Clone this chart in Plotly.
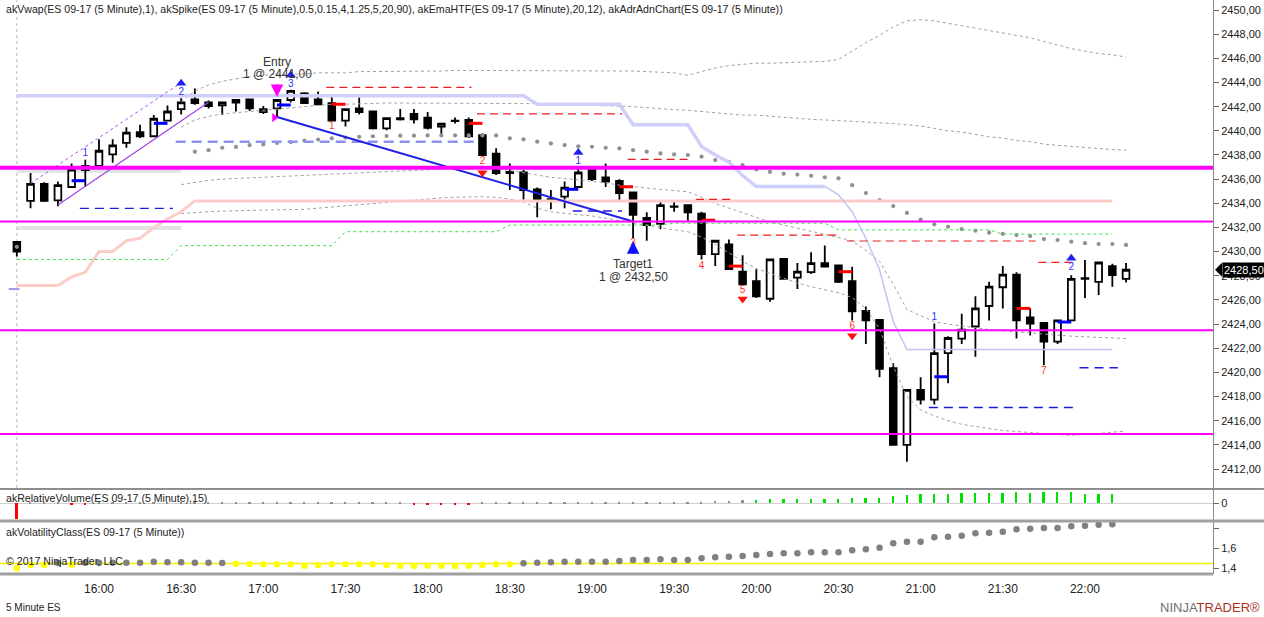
import plotly.graph_objects as go
from plotly.subplots import make_subplots

DAY = "2017-08-21 "

### 5 minute bars, 15:30 - 22:15 ###
times = ["15:30", "15:35", "15:40", "15:45", "15:50", "15:55", "16:00", "16:05", "16:10", "16:15", "16:20", "16:25",
         "16:30", "16:35", "16:40", "16:45", "16:50", "16:55", "17:00", "17:05", "17:10", "17:15", "17:20", "17:25",
         "17:30", "17:35", "17:40", "17:45", "17:50", "17:55", "18:00", "18:05", "18:10", "18:15", "18:20", "18:25",
         "18:30", "18:35", "18:40", "18:45", "18:50", "18:55", "19:00", "19:05", "19:10", "19:15", "19:20", "19:25",
         "19:30", "19:35", "19:40", "19:45", "19:50", "19:55", "20:00", "20:05", "20:10", "20:15", "20:20", "20:25",
         "20:30", "20:35", "20:40", "20:45", "20:50", "20:55", "21:00", "21:05", "21:10", "21:15", "21:20", "21:25",
         "21:30", "21:35", "21:40", "21:45", "21:50", "21:55", "22:00", "22:05", "22:10", "22:15"]

opens = [2430.8, 2434.2, 2435.6, 2434.25, 2435.35, 2436.75, 2437.1, 2438.05, 2439.0, 2439.9, 2439.55, 2440.85,
         2441.8, 2442.6, 2442.35, 2442.1, 2442.33, 2442.6, 2441.55, 2441.85, 2442.55, 2443.1, 2442.6, 2442.3,
         2440.85, 2441.85, 2441.6, 2440.2, 2441.05, 2441.4, 2441.1, 2440.35, 2440.8, 2440.9, 2439.65, 2438.1,
         2436.6, 2436.55, 2435.15, 2434.35, 2434.55, 2435.35, 2436.8, 2436.15, 2435.85, 2434.9, 2432.8, 2432.3,
         2433.75, 2433.85, 2433.15, 2429.8, 2430.6, 2428.35, 2427.55, 2426.1, 2429.4, 2427.85, 2428.3, 2429.05,
         2428.85, 2427.55, 2425.1, 2424.35, 2420.35, 2414.0, 2418.55, 2417.75, 2421.6, 2422.8, 2423.8, 2425.5,
         2427.05, 2428.1, 2424.55, 2424.1, 2422.55, 2424.3, 2427.75, 2427.5, 2428.8, 2427.75]
highs = [2430.8, 2436.5, 2435.75, 2435.8, 2437.3, 2437.6, 2439.3, 2439.3, 2440.3, 2440.5, 2441.3, 2442.1,
         2442.7, 2443.5, 2442.5, 2442.35, 2442.55, 2442.6, 2442.05, 2442.55, 2443.4, 2443.2, 2443.25, 2442.85,
         2441.8, 2442.75, 2441.6, 2441.05, 2441.8, 2441.8, 2441.55, 2440.65, 2441.1, 2441.1, 2439.8, 2438.55,
         2437.3, 2436.8, 2435.3, 2435.1, 2435.8, 2436.9, 2436.8, 2437.3, 2436.0, 2434.9, 2433.25, 2434.1,
         2434.15, 2433.85, 2433.3, 2430.9, 2431.0, 2429.7, 2428.55, 2429.35, 2429.4, 2429.05, 2429.95, 2430.5,
         2428.9, 2428.75, 2425.45, 2424.35, 2420.75, 2418.55, 2419.6, 2424.05, 2423.0, 2424.85, 2426.3, 2427.5,
         2428.8, 2428.3, 2425.3, 2424.1, 2424.3, 2428.05, 2429.3, 2429.1, 2429.0, 2429.05]
lows = [2429.6, 2433.6, 2434.1, 2433.75, 2435.3, 2435.4, 2437.05, 2437.35, 2438.6, 2439.4, 2439.5, 2440.8,
        2441.35, 2442.15, 2441.85, 2441.3, 2441.6, 2441.65, 2441.4, 2441.15, 2442.35, 2442.3, 2442.2, 2440.85,
        2440.35, 2441.35, 2440.1, 2440.05, 2440.85, 2440.6, 2440.1, 2439.65, 2440.6, 2439.4, 2438.0, 2436.35,
        2435.1, 2434.3, 2432.85, 2433.5, 2433.6, 2435.3, 2435.85, 2435.35, 2434.1, 2431.1, 2430.9, 2431.85,
        2433.3, 2432.55, 2429.35, 2428.8, 2428.55, 2427.3, 2426.15, 2425.85, 2427.75, 2426.9, 2428.15, 2428.75,
        2427.4, 2424.3, 2422.35, 2419.6, 2414.0, 2412.6, 2417.35, 2417.35, 2419.1, 2422.35, 2421.3, 2424.3,
        2425.3, 2422.8, 2423.05, 2420.6, 2422.35, 2424.3, 2426.15, 2426.4, 2427.1, 2427.45]
closes = [2430.0, 2435.6, 2434.2, 2435.5, 2436.8, 2437.1, 2438.35, 2438.8, 2439.85, 2439.55, 2441.0, 2441.6,
          2442.35, 2442.3, 2442.05, 2442.35, 2442.55, 2441.85, 2441.8, 2442.55, 2443.3, 2442.3, 2442.2, 2440.85,
          2441.8, 2441.55, 2440.2, 2441.05, 2440.95, 2440.95, 2440.25, 2440.6, 2440.85, 2439.55, 2438.0, 2436.5,
          2436.5, 2435.1, 2434.2, 2434.3, 2435.3, 2436.55, 2436.0, 2435.8, 2434.85, 2433.05, 2432.2, 2433.85,
          2433.7, 2433.25, 2429.8, 2430.9, 2428.55, 2427.3, 2426.3, 2429.35, 2427.75, 2428.35, 2429.05, 2428.75,
          2427.5, 2425.05, 2424.3, 2420.3, 2414.0, 2418.55, 2417.75, 2421.6, 2422.85, 2423.55, 2425.3, 2427.1,
          2428.1, 2424.3, 2424.05, 2422.55, 2424.3, 2427.75, 2427.8, 2429.1, 2428.05, 2428.5]

### akEmaHTF lines ###
ema_blue = [2442.9, 2442.9, 2442.9, 2442.9, 2442.9, 2442.9, 2442.9, 2442.9, 2442.9, 2442.9, 2442.9, 2442.9,
            2442.9, 2442.9, 2442.9, 2442.9, 2442.9, 2442.9, 2442.9, 2442.9, 2442.9, 2442.9, 2442.9, 2442.9,
            2442.9, 2442.9, 2442.9, 2442.9, 2442.9, 2442.9, 2442.9, 2442.9, 2442.9, 2442.9, 2442.9, 2442.9,
            2442.9, 2442.9, 2442.2, 2442.2, 2442.2, 2442.2, 2442.2, 2442.2, 2442.2, 2440.5, 2440.5, 2440.5,
            2440.5, 2440.5, 2438.7, 2438.0, 2437.4, 2436.3, 2435.4, 2435.4, 2435.4, 2435.4, 2435.4, 2435.4,
            2434.7, 2433.3, 2431.1, 2428.5, 2424.2, 2421.9, 2421.9, 2421.9, 2421.9, 2421.9, 2421.9, 2421.9,
            2421.9, 2421.9, 2421.9, 2421.9, 2421.9, 2421.9, 2421.9, 2421.9, 2421.9, None]
ema_red = [2427.2, 2427.2, 2427.2, 2427.2, 2427.9, 2428.3, 2430.0, 2430.0, 2430.9, 2431.1, 2432.0, 2432.7,
           2433.3, 2434.2, 2434.2, 2434.2, 2434.2, 2434.2, 2434.2, 2434.2, 2434.2, 2434.2, 2434.2, 2434.2,
           2434.2, 2434.2, 2434.2, 2434.2, 2434.2, 2434.2, 2434.2, 2434.2, 2434.2, 2434.2, 2434.2, 2434.2,
           2434.2, 2434.2, 2434.2, 2434.2, 2434.2, 2434.2, 2434.2, 2434.2, 2434.2, 2434.2, 2434.2, 2434.2,
           2434.2, 2434.2, 2434.2, 2434.2, 2434.2, 2434.2, 2434.2, 2434.2, 2434.2, 2434.2, 2434.2, 2434.2,
           2434.2, 2434.2, 2434.2, 2434.2, 2434.2, 2434.2, 2434.2, 2434.2, 2434.2, 2434.2, 2434.2, 2434.2,
           2434.2, 2434.2, 2434.2, 2434.2, 2434.2, 2434.2, 2434.2, 2434.2, 2434.2, None]
ema_green = [2429.35, 2429.35, 2429.35, 2429.35, 2429.35, 2429.35, 2429.35, 2429.35, 2429.35, 2429.35, 2429.35, 2429.35,
             2430.5, 2430.5, 2430.5, 2430.5, 2430.5, 2430.5, 2430.5, 2430.5, 2430.5, 2430.5, 2430.5, 2430.5,
             2431.65, 2431.65, 2431.65, 2431.65, 2431.65, 2431.65, 2431.65, 2431.65, 2431.65, 2431.65, 2431.65, 2431.65,
             2432.2, 2432.2, 2432.2, 2432.2, 2432.2, 2432.2, 2432.2, 2432.2, 2432.2, 2432.2, 2432.2, 2432.2,
             2432.35, 2432.35, 2432.35, 2432.35, 2432.35, 2432.35, 2432.35, 2432.35, 2432.35, 2432.35, 2432.35, 2432.35,
             2431.8, 2431.8, 2431.8, 2431.8, 2431.8, 2431.8, 2431.8, 2431.8, 2431.8, 2431.8, 2431.8, 2431.8,
             2431.45, 2431.45, 2431.45, 2431.45, 2431.45, 2431.45, 2431.45, 2431.45, 2431.45, None]

### akVwap and bands ###
vwap = [2430.4, None, None, None, None, None, None, None, None, None, None, None,
        None, 2438.27, 2438.4, 2438.6, 2438.67, 2438.82, 2438.87, 2439.0, 2439.07, 2439.2, 2439.28, 2439.38,
        2439.44, 2439.5, 2439.55, 2439.57, 2439.6, 2439.6, 2439.62, 2439.62, 2439.62, 2439.62, 2439.62, 2439.62,
        2439.38, 2439.3, 2439.1, 2438.96, 2438.82, 2438.72, 2438.68, 2438.6, 2438.55, 2438.4, 2438.27, 2438.13,
        2438.05, 2438.0, 2437.86, 2437.58, 2437.44, 2437.17, 2436.8, 2436.6, 2436.45, 2436.38, 2436.28, 2436.15,
        2436.07, 2435.5, 2434.85, 2434.27, 2433.77, 2433.2, 2432.65, 2432.26, 2432.06, 2431.87, 2431.73, 2431.57,
        2431.47, 2431.37, 2431.29, 2431.04, 2430.96, 2430.82, 2430.7, 2430.63, 2430.63, 2430.55]
band_u2 = [None, None, None, None, None, None, None, None, None, None, None, None,
           2442.4, 2443.3, 2443.8, 2444.1, 2444.3, 2444.5, 2444.6, 2444.7, 2444.7, 2444.7, 2444.8, 2444.8,
           2444.8, 2444.9, 2444.9, 2444.9, 2444.9, 2444.9, 2444.95, 2444.95, 2445.0, 2445.0, 2445.0, 2445.0,
           2445.0, 2445.0, 2445.0, 2445.0, 2445.0, 2445.0, 2445.0, 2445.0, 2445.0, 2444.95, 2444.9, 2444.85,
           2444.8, 2444.6, 2444.9, 2445.2, 2445.4, 2445.5, 2445.6, 2445.6, 2445.65, 2445.7, 2445.7, 2445.75,
           2445.9, 2446.6, 2447.3, 2447.9, 2448.6, 2449.1, 2449.2, 2449.1, 2448.9, 2448.7, 2448.5, 2448.3,
           2448.1, 2447.9, 2447.7, 2447.4, 2447.1, 2446.8, 2446.6, 2446.4, 2446.3, 2446.1]
band_u1 = [None, None, None, None, None, None, None, None, None, None, None, None,
           2440.3, 2440.9, 2441.2, 2441.4, 2441.5, 2441.6, 2441.7, 2441.8, 2441.9, 2442.0, 2442.1, 2442.2,
           2442.2, 2442.25, 2442.3, 2442.3, 2442.3, 2442.3, 2442.3, 2442.3, 2442.3, 2442.3, 2442.3, 2442.3,
           2442.3, 2442.3, 2442.25, 2442.2, 2442.2, 2442.15, 2442.1, 2442.1, 2442.05, 2442.0, 2441.9, 2441.8,
           2441.75, 2441.7, 2441.6, 2441.5, 2441.4, 2441.3, 2441.3, 2441.2, 2441.1, 2441.0, 2440.95, 2440.9,
           2440.85, 2440.8, 2440.75, 2440.7, 2440.6, 2440.5, 2440.4, 2440.2, 2440.0, 2439.9, 2439.7, 2439.5,
           2439.4, 2439.2, 2439.1, 2438.9, 2438.8, 2438.7, 2438.6, 2438.5, 2438.45, 2438.4]
band_l1 = [None, None, None, None, None, None, None, None, None, None, None, None,
           2435.55, 2435.75, 2435.9, 2436.0, 2436.05, 2436.1, 2436.15, 2436.2, 2436.25, 2436.3, 2436.35, 2436.4,
           2436.45, 2436.5, 2436.55, 2436.6, 2436.65, 2436.7, 2436.75, 2436.8, 2436.9, 2436.95, 2436.98, 2436.9,
           2436.7, 2436.5, 2436.3, 2436.15, 2436.05, 2435.95, 2435.85, 2435.7, 2435.5, 2435.37, 2435.25, 2435.15,
           2435.05, 2434.96, 2434.5, 2434.0, 2433.6, 2433.2, 2432.8, 2432.45, 2432.2, 2431.95, 2431.7, 2431.45,
           2431.2, 2430.9, 2430.1, 2429.2, 2427.3, 2425.2, 2424.7, 2424.2, 2424.0, 2423.85, 2423.65, 2423.55,
           2423.45, 2423.35, 2423.25, 2423.15, 2423.05, 2423.0, 2422.95, 2422.9, 2422.85, 2422.8]
band_l2 = [None, None, None, None, None, None, None, None, None, None, None, None,
           2433.15, 2433.25, 2433.3, 2433.35, 2433.4, 2433.42, 2433.44, 2433.46, 2433.48, 2433.5, 2433.6, 2433.7,
           2433.8, 2433.9, 2434.0, 2434.1, 2434.2, 2434.3, 2434.4, 2434.45, 2434.5, 2434.55, 2434.55, 2434.5,
           2434.35, 2434.1, 2433.6, 2433.3, 2433.15, 2433.05, 2432.95, 2432.75, 2432.55, 2432.35, 2432.15, 2432.0,
           2431.8, 2431.65, 2431.2, 2430.6, 2429.9, 2429.2, 2428.6, 2428.2, 2427.8, 2427.4, 2427.1, 2426.85,
           2426.6, 2426.2, 2425.3, 2423.6, 2420.5, 2418.0, 2416.9, 2416.4, 2416.0, 2415.7, 2415.5, 2415.35,
           2415.2, 2415.1, 2415.0, 2414.9, 2414.85, 2414.8, 2414.85, 2414.95, 2415.05, 2415.15]

### lower panels ###
rel_volume = [-4.8, 0.2, 0.2, 0.2, -0.4, -0.4, 0.2, 0.2, 0.2, 0.2, 0.2, 0.2,
              0.2, 0.2, 0.2, 0.2, 0.2, 0.2, 0.2, 0.2, 0.2, 0.2, 0.2, 0.2,
              0.2, 0.2, 0.2, 0.2, 0.2, -0.4, -0.4, -0.4, -0.4, -0.4, 0.2, 0.2,
              0.2, 0.2, 0.2, 0.2, 0.2, 0.2, 0.2, 0.2, 0.2, 0.2, 0.2, 0.3,
              0.2, 0.3, 0.4, 0.8, 0.8, 0.95, 1.1, 1.3, 1.3, 1.3, 1.3, 1.3,
              1.3, 1.6, 1.8, 1.8, 2.3, 2.7, 2.8, 2.8, 3.1, 3.3, 3.4, 3.4,
              3.4, 3.6, 3.4, 3.7, 3.7, 3.6, 2.8, 2.8, 2.8, None]
volatility = [1.40, 1.433, 1.433, 1.452, 1.435, 1.456, 1.456, 1.456, 1.456, 1.456, 1.466, 1.46,
              1.46, 1.456, 1.456, 1.452, 1.446, 1.443, 1.44, 1.44, 1.44, 1.426, 1.433, 1.44,
              1.44, 1.44, 1.44, 1.433, 1.426, 1.426, 1.426, 1.426, 1.423, 1.426, 1.433, 1.44,
              1.44, 1.45, 1.456, 1.46, 1.466, 1.466, 1.466, 1.466, 1.473, 1.483, 1.483, 1.49,
              1.483, 1.483, 1.50, 1.51, 1.516, 1.523, 1.533, 1.543, 1.55, 1.55, 1.56, 1.56,
              1.56, 1.58, 1.59, 1.606, 1.65, 1.666, 1.666, 1.71, 1.716, 1.726, 1.75, 1.756,
              1.766, 1.79, 1.796, 1.803, 1.803, 1.82, 1.826, 1.836, 1.84, None]
vol_threshold = 1.448
rv_threshold = 1.0

### levels and drawings ###
magenta_levels = [2436.95, 2432.5, 2423.5, 2414.9]
prior_levels = [2436.7, 2431.95]

red_dash_start = ["17:23", "18:18", "19:13", "19:38", "19:53", "20:33", "21:43"]
red_dash_end = ["18:16", "19:11", "19:36", "19:51", "20:30", "21:42", "21:57"]
red_dash_price = [2443.6, 2441.4, 2437.64, 2434.33, 2431.37, 2430.88, 2429.11]
blue_dash_start = ["15:53", "18:53", "21:03", "21:58"]
blue_dash_end = ["16:27", "19:11", "21:57", "22:12"]
blue_dash_price = [2433.58, 2433.36, 2417.1, 2420.39]
lav_dash_start = ["16:28"]
lav_dash_end = ["18:17"]
lav_dash_price = [2439.1]

blue_tick_start = ["15:50", "16:20", "17:05", "18:50", "21:05", "21:50"]
blue_tick_end = ["15:55", "16:25", "17:10", "18:55", "21:10", "21:55"]
blue_tick_price = [2435.87, 2440.62, 2442.14, 2435.16, 2419.64, 2424.17]
red_tick_start = ["17:25", "18:15", "19:10", "19:40", "19:50", "20:30", "21:35"]
red_tick_end = ["17:30", "18:20", "19:15", "19:45", "19:55", "20:35", "21:40"]
red_tick_price = [2442.2, 2440.62, 2435.37, 2432.6, 2428.8, 2428.34, 2425.3]

blue_lbl_t = ["15:55", "16:30", "17:10", "18:55", "21:05", "21:55"]
blue_lbl_y = [2438.1, 2443.15, 2443.87, 2437.44, 2424.56, 2428.67]
blue_lbl = ["1", "2", "3", "1", "1", "2"]
blue_tri_t = ["16:30", "17:10", "18:55", "21:55"]
blue_tri_y = [2443.93, 2444.62, 2438.2, 2429.45]
red_lbl_t = ["17:25", "18:20", "19:15", "19:40", "19:55", "20:35", "21:45"]
red_lbl_y = [2440.34, 2437.5, 2430.69, 2428.8, 2426.82, 2423.84, 2420.06]
red_lbl = ["1", "2", "3", "4", "5", "6", "7"]
red_tri_t = ["18:20", "19:55", "20:35"]
red_tri_y = [2436.53, 2426.08, 2423.04]

channel_up_t = ["15:35", "16:30"]
channel_up_y = [2435.65, 2443.98]
channel_lo_t = ["15:45", "16:40"]
channel_lo_y = [2433.86, 2442.36]
trade_t = ["17:05", "19:15"]
trade_y = [2441.15, 2432.5]
last_price = 2428.5

x_ticks = ["16:00", "16:30", "17:00", "17:30", "18:00", "18:30", "19:00", "19:30",
           "20:00", "20:30", "21:00", "21:30", "22:00"]
y_ticks = [2412, 2414, 2416, 2418, 2420, 2422, 2424, 2426, 2428, 2430,
           2432, 2434, 2436, 2438, 2440, 2442, 2444, 2446, 2448, 2450]


def ts(t):
    return DAY + t


def segments(starts, ends, prices):
    xs, ys = [], []
    for s, e, p in zip(starts, ends, prices):
        xs += [ts(s), ts(e), None]
        ys += [p, p, None]
    return xs, ys


X = [ts(t) for t in times]
FONT = "Liberation Sans, Arial, sans-serif"

fig = make_subplots(rows=3, cols=1, shared_xaxes=True, vertical_spacing=0.005)

# bands and vwap
for band in [band_u2, band_u1, band_l1, band_l2]:
    fig.add_trace(go.Scatter(x=X, y=band, mode="lines", line=dict(color="#a0a0a0", width=1, dash="dot"),
                             hoverinfo="skip"), row=1, col=1)
fig.add_trace(go.Scatter(x=X, y=vwap, mode="markers", marker=dict(color="#909090", size=4.2),
                         hoverinfo="skip"), row=1, col=1)

# htf ema lines
fig.add_trace(go.Scatter(x=X, y=ema_red, mode="lines", line=dict(color="#fccdc8", width=3),
                         hoverinfo="skip"), row=1, col=1)
fig.add_trace(go.Scatter(x=X, y=ema_green, mode="lines", line=dict(color="#44e044", width=1, dash="dot"),
                         hoverinfo="skip"), row=1, col=1)
fig.add_trace(go.Scatter(x=X[:60], y=ema_blue[:60], mode="lines", line=dict(color="#cfcffb", width=3.5),
                         hoverinfo="skip"), row=1, col=1)
fig.add_trace(go.Scatter(x=X[59:], y=ema_blue[59:], mode="lines", line=dict(color="#c4c4f6", width=1.5),
                         hoverinfo="skip"), row=1, col=1)

# dashed target / stop lines
for st, en, pr, color, width, dash in [
        (red_dash_start, red_dash_end, red_dash_price, "#e82020", 1.2, "8px,5px"),
        (blue_dash_start, blue_dash_end, blue_dash_price, "#1c1ce0", 1.4, "9px,6px"),
        (lav_dash_start, lav_dash_end, lav_dash_price, "#9090f4", 2.5, "10px,6px")]:
    sx, sy = segments(st, en, pr)
    fig.add_trace(go.Scatter(x=sx, y=sy, mode="lines", line=dict(color=color, width=width, dash=dash),
                             hoverinfo="skip"), row=1, col=1)

# channel and trade line
fig.add_trace(go.Scatter(x=[ts(t) for t in channel_up_t], y=channel_up_y, mode="lines",
                         line=dict(color="#b050f0", width=1, dash="dot"), hoverinfo="skip"), row=1, col=1)
fig.add_trace(go.Scatter(x=[ts(t) for t in channel_lo_t], y=channel_lo_y, mode="lines",
                         line=dict(color="#a040e8", width=1.2), hoverinfo="skip"), row=1, col=1)
fig.add_trace(go.Scatter(x=[ts(t) for t in trade_t], y=trade_y, mode="lines",
                         line=dict(color="#1f1fe6", width=2), hoverinfo="skip"), row=1, col=1)

# candles
fig.add_trace(go.Candlestick(x=X, open=opens, high=highs, low=lows, close=closes,
                             increasing=dict(line=dict(color="black", width=1.8), fillcolor="white"),
                             decreasing=dict(line=dict(color="black", width=1.8), fillcolor="black"),
                             hoverinfo="skip"), row=1, col=1)

# spike ticks
for st, en, pr, color in [(blue_tick_start, blue_tick_end, blue_tick_price, "#0000ff"),
                          (red_tick_start, red_tick_end, red_tick_price, "#ff0000")]:
    sx, sy = segments(st, en, pr)
    fig.add_trace(go.Scatter(x=sx, y=sy, mode="lines", line=dict(color=color, width=3),
                             hoverinfo="skip"), row=1, col=1)

# counters
fig.add_trace(go.Scatter(x=[ts(t) for t in blue_lbl_t], y=blue_lbl_y, mode="text", text=blue_lbl,
                         textfont=dict(color="#3030ff", size=10, family=FONT), hoverinfo="skip"), row=1, col=1)
fig.add_trace(go.Scatter(x=[ts(t) for t in blue_tri_t], y=blue_tri_y, mode="markers",
                         marker=dict(symbol="triangle-up", color="#2020f0", size=9), hoverinfo="skip"), row=1, col=1)
fig.add_trace(go.Scatter(x=[ts(t) for t in red_lbl_t], y=red_lbl_y, mode="text", text=red_lbl,
                         textfont=dict(color="#ff3030", size=10, family=FONT), hoverinfo="skip"), row=1, col=1)
fig.add_trace(go.Scatter(x=[ts(t) for t in red_tri_t], y=red_tri_y, mode="markers",
                         marker=dict(symbol="triangle-down", color="#ff1010", size=9), hoverinfo="skip"), row=1, col=1)
fig.add_trace(go.Scatter(x=[ts("17:04")], y=[2441.1], mode="markers",
                         marker=dict(symbol="triangle-right", color="#ff00ff", size=8), hoverinfo="skip"), row=1, col=1)

# relative volume
rv_colors = ["#ff0000" if (v is not None and v < 0) else
             ("#00e000" if (v is not None and v >= rv_threshold) else "#909090") for v in rel_volume]
fig.add_trace(go.Bar(x=X, y=rel_volume, marker=dict(color=rv_colors, line=dict(width=0)),
                     width=40000, hoverinfo="skip"), row=2, col=1)

# volatility class
vc_colors = ["#ffff00" if (v is not None and v < vol_threshold) else "#808080" for v in volatility]
fig.add_trace(go.Scatter(x=X, y=volatility, mode="markers", marker=dict(color=vc_colors, size=6.5),
                         hoverinfo="skip"), row=3, col=1)

x_range = [ts("15:23:51"), ts("22:46:45")]
fig.update_xaxes(range=x_range, showgrid=False, zeroline=False, rangeslider_visible=False,
                 showline=False, ticks="")
fig.update_xaxes(tickvals=[ts(t) for t in x_ticks], ticktext=x_ticks, showticklabels=True,
                 tickfont=dict(size=12, family=FONT, color="#222"), ticks="outside", ticklen=4,
                 tickcolor="rgba(0,0,0,0)", row=3, col=1)

axis_common = dict(side="right", showgrid=False, showline=True, linecolor="#8a8a8a", linewidth=1,
                   ticks="outside", ticklen=5, tickcolor="#666", tickfont=dict(size=11, family=FONT, color="#222"))
fig.update_layout(
    yaxis=dict(domain=[0.1498, 1.0], range=[2410.43, 2450.83], tickvals=y_ticks, tickformat=".2f",
               zeroline=False, **axis_common),
    yaxis2=dict(domain=[0.0941, 0.1463], range=[-5.2, 4.2], tickvals=[0], tickformat="d",
                zeroline=True, zerolinecolor="#cfcfcf", zerolinewidth=1, **axis_common),
    yaxis3=dict(domain=[0.0, 0.0906], range=[1.343, 1.863], tickvals=[1.4, 1.6, 1.8], ticktext=["1,4", "1,6", ""],
                zeroline=False, **axis_common),
)

shapes = []
for i, lvl in enumerate(magenta_levels):
    shapes.append(dict(type="line", xref="x domain", yref="y", x0=0, x1=1, y0=lvl, y1=lvl,
                       line=dict(color="#ff00ff", width=4 if i == 0 else 2)))
for lvl in prior_levels:
    shapes.append(dict(type="line", xref="x", yref="y", x0=ts("15:30"), x1=ts("16:30"), y0=lvl, y1=lvl,
                       line=dict(color="#e2e2e2", width=4), layer="below"))
shapes.append(dict(type="line", xref="x", yref="y", x0=ts("15:30"), x1=ts("15:30"), y0=2410.43, y1=2450.83,
                   line=dict(color="#b8b8b8", width=1, dash="dot"), layer="below"))
shapes.append(dict(type="line", xref="x", yref="y", x0=ts("15:27"), x1=ts("15:31"), y0=2426.9, y1=2426.9,
                   line=dict(color="#9a9af0", width=2)))
# panel separators
shapes.append(dict(type="line", xref="paper", yref="paper", x0=0, x1=1.042, y0=0.1481, y1=0.1481,
                   line=dict(color="#202020", width=1)))
shapes.append(dict(type="line", xref="paper", yref="paper", x0=0, x1=1.042, y0=0.0923, y1=0.0923,
                   line=dict(color="#a0a0a0", width=3)))
shapes.append(dict(type="line", xref="paper", yref="paper", x0=0, x1=1.0, y0=0.0, y1=0.0,
                   line=dict(color="#a0a0a0", width=3)))
shapes.append(dict(type="line", xref="paper", yref="y3", x0=0, x1=1, y0=vol_threshold, y1=vol_threshold,
                   line=dict(color="#f4f000", width=1.5), layer="below"))
# last price marker
shapes.append(dict(type="path", xref="paper", yref="y",
                   path=f"M1.0017,{last_price} L1.0076,{last_price + 0.6} L1.0076,{last_price - 0.6} Z",
                   fillcolor="black", line=dict(width=0)))
fig.update_layout(shapes=shapes)

annotations = [
    dict(xref="paper", yref="paper", x=0.003, y=0.9843, xanchor="left", yanchor="middle", showarrow=False,
         text="akVwap(ES 09-17 (5 Minute),1), akSpike(ES 09-17 (5 Minute),0.5,0.15,4,1.25,5,20,90), "
              "akEmaHTF(ES 09-17 (5 Minute),20,12), akAdrAdnChart(ES 09-17 (5 Minute))",
         font=dict(size=10.6, family=FONT, color="#222")),
    dict(xref="paper", yref="paper", x=0.003, y=0.1324, xanchor="left", yanchor="middle", showarrow=False,
         text="akRelativeVolume(ES 09-17 (5 Minute),15)", font=dict(size=10.6, family=FONT, color="#222")),
    dict(xref="paper", yref="paper", x=0.003, y=0.0732, xanchor="left", yanchor="middle", showarrow=False,
         text="akVolatilityClass(ES 09-17 (5 Minute))", font=dict(size=10.6, family=FONT, color="#222")),
    dict(xref="paper", yref="paper", x=0.003, y=0.0226, xanchor="left", yanchor="middle", showarrow=False,
         text="© 2017 NinjaTrader, LLC", font=dict(size=10.6, family=FONT, color="#222")),
    dict(xref="paper", yref="paper", x=0.003, y=-0.0575, xanchor="left", yanchor="middle", showarrow=False,
         text="5 Minute ES", font=dict(size=10, family=FONT, color="#222")),
    dict(xref="paper", yref="paper", x=1.0404, y=-0.0575, xanchor="right", yanchor="middle", showarrow=False,
         text="<span style='color:#707070'>NINJA</span><span style='color:#a8321c'>TRADER®</span>",
         font=dict(size=13, family=FONT)),
    dict(xref="x", yref="y", x=ts("17:05"), y=2445.7, showarrow=False, text="Entry",
         font=dict(size=12, family=FONT, color="#333")),
    dict(xref="x", yref="y", x=ts("17:05"), y=2444.7, showarrow=False, text="1 @ 2441,00",
         font=dict(size=12, family=FONT, color="#333")),
    dict(xref="x", yref="y", x=ts("19:15"), y=2428.97, showarrow=False, text="Target1",
         font=dict(size=12, family=FONT, color="#333")),
    dict(xref="x", yref="y", x=ts("19:15"), y=2427.9, showarrow=False, text="1 @ 2432,50",
         font=dict(size=12, family=FONT, color="#333")),
    dict(xref="x", yref="y", x=ts("17:05"), y=2442.8, ax=0, ay=-14, text="", showarrow=True,
         arrowhead=2, arrowsize=1, arrowwidth=2.5, arrowcolor="#ff00ff"),
    dict(xref="x", yref="y", x=ts("19:15"), y=2430.85, ax=0, ay=14, text="", showarrow=True,
         arrowhead=2, arrowsize=1, arrowwidth=2.5, arrowcolor="#1010ff"),
    dict(xref="paper", yref="y", x=1.0076, y=last_price, xanchor="left", yanchor="middle", showarrow=False,
         text="2428,50", bgcolor="black", borderpad=1, font=dict(size=11, family=FONT, color="white")),
]
fig.update_layout(annotations=annotations)

fig.update_layout(width=1264, height=617, margin=dict(l=0, r=51, t=0, b=43),
                  paper_bgcolor="white", plot_bgcolor="white", showlegend=False,
                  separators=",.", hovermode=False, bargap=0,
                  font=dict(family=FONT, size=11, color="#222"))

# the page's default body margin would shift the chart off the window
fig.write_html("out.html", config={"displayModeBar": False},
               post_script="document.body.style.margin='0';")
